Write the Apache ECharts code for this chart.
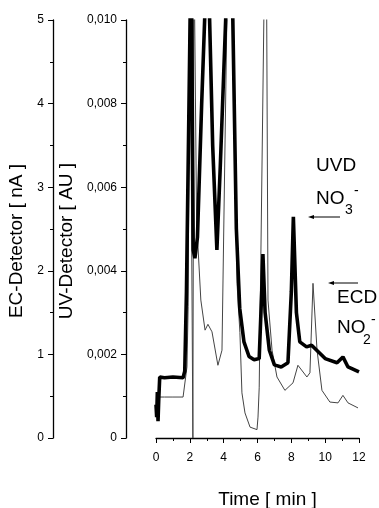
<!DOCTYPE html>
<html>
<head>
<meta charset="utf-8">
<script src="https://cdn.jsdelivr.net/npm/echarts@6/dist/echarts.min.js"></script>
<style>
  html, body { margin: 0; padding: 0; background: #fff; }
  #chart { width: 379px; height: 508px; }
</style>
</head>
<body>
<div id="chart"></div>
<script>
// time [min] / UV detector [AU] (thick trace)
const uvTime = [0.0, 0.04, 0.08, 0.12, 0.16, 0.22, 0.5, 1.0, 1.6, 1.7, 1.8, 1.95, 2.08, 2.2, 2.3, 2.45, 2.7, 3.05, 3.35, 3.6, 3.8, 4.3, 4.5, 4.75, 4.95, 5.2, 5.5, 5.8, 6.1, 6.25, 6.32, 6.45, 6.7, 7.0, 7.4, 7.8, 8.0, 8.12, 8.3, 8.5, 8.9, 9.2, 9.5, 10.0, 10.7, 11.05, 11.35, 12.0];
const uvValue = [0.0008, 0.0005, 0.0011, 0.0004, 0.0009, 0.00146, 0.00144, 0.00146, 0.00144, 0.0016, 0.0035, 0.008, 0.012, 0.0045, 0.0043, 0.0048, 0.008, 0.012, 0.007, 0.0045, 0.0065, 0.012, 0.011, 0.005, 0.0031, 0.0023, 0.00195, 0.00187, 0.0019, 0.0035, 0.0044, 0.003, 0.0021, 0.00175, 0.0017, 0.0018, 0.0035, 0.00529, 0.003, 0.0023, 0.00218, 0.00222, 0.0021, 0.0019, 0.0018, 0.00194, 0.0017, 0.00158];

// time [min] / EC detector [nA] (thin trace)
const ecTime = [0.15, 0.5, 1.0, 1.6, 1.83, 1.9, 2.0, 2.1, 2.18, 2.24, 2.4, 2.65, 2.9, 3.07, 3.31, 3.66, 3.9, 4.26, 4.5, 4.79, 4.96, 5.08, 5.26, 5.56, 5.97, 6.03, 6.1, 6.5, 6.62, 6.86, 7.15, 7.62, 8.1, 8.39, 8.92, 9.1, 9.28, 9.52, 9.81, 10.28, 10.76, 11.05, 11.35, 11.94];
const ecValue = [0.49, 0.49, 0.49, 0.49, 0.85, 1.57, 6, 6, 0, 6, 2.6, 1.65, 1.29, 1.36, 1.27, 0.87, 1.05, 6, 6, 1.85, 1.26, 0.54, 0.30, 0.13, 0.1, 0.25, 0.6, 7, 1.65, 1.05, 0.73, 0.57, 0.66, 0.87, 0.73, 0.78, 1.85, 1.05, 0.57, 0.43, 0.42, 0.51, 0.42, 0.36];

const ecTicks = [0, 1, 2, 3, 4, 5];
const uvTicks = ['0', '0,002', '0,004', '0,006', '0,008', '0,010'];
const timeTicks = [0, 2, 4, 6, 8, 10, 12];

const chart = echarts.init(document.getElementById('chart'), null, {renderer: 'canvas'});
const font = 'Liberation Sans, Arial, sans-serif';

const pair = (xs, ys) => xs.map((x, i) => [x, ys[i]]);

const axisCommon = {
  axisLine: {show: true, onZero: false, lineStyle: {color: '#000', width: 1.3}},
  axisTick: {show: true, length: 5, lineStyle: {color: '#000'}},
  minorTick: {show: true, splitNumber: 2, length: 3, lineStyle: {color: '#000'}},
  splitLine: {show: false}
};

chart.setOption({
  animation: false,
  backgroundColor: '#fff',
  grid: {left: 156, right: 20, top: 20, bottom: 70, containLabel: false, outerBoundsMode: 'none'},
  xAxis: Object.assign({
    type: 'value',
    min: 0, max: 12, interval: 2,
    name: 'Time [ min ]',
    nameLocation: 'middle',
    nameGap: 52,
    nameTextStyle: {fontFamily: font, fontSize: 19, color: '#000', padding: [0, 0, 0, 20]},
    axisLabel: {
      fontFamily: font, fontSize: 12, color: '#000', margin: 14,
      formatter: v => timeTicks.includes(v) ? String(v) : ''
    }
  }, axisCommon),
  yAxis: [
    Object.assign({
      type: 'value', position: 'left', offset: 103,
      min: 0, max: 5, interval: 1,
      name: 'EC-Detector [ nA ]',
      nameLocation: 'middle', nameGap: 26,
      nameTextStyle: {fontFamily: font, fontSize: 19, color: '#000', padding: [0, 24, 0, 0]},
      axisLabel: {fontFamily: font, fontSize: 12, color: '#000', margin: 9,
        formatter: v => String(ecTicks[Math.round(v)])}
    }, axisCommon),
    Object.assign({
      type: 'value', position: 'left', offset: 30,
      min: 0, max: 0.010, interval: 0.002,
      name: 'UV-Detector [ AU ]',
      nameLocation: 'middle', nameGap: 49,
      nameTextStyle: {fontFamily: font, fontSize: 19, color: '#000', padding: [0, 24, 0, 0]},
      axisLabel: {fontFamily: font, fontSize: 12, color: '#000', margin: 9,
        formatter: v => uvTicks[Math.round(v / 0.002)]}
    }, axisCommon)
  ],
  series: [
    {
      type: 'line', yAxisIndex: 0, clip: true,
      showSymbol: false, symbol: 'none',
      data: pair(ecTime, ecValue),
      lineStyle: {color: '#444', width: 1}
    },
    {
      type: 'line', yAxisIndex: 1, clip: true,
      showSymbol: false, symbol: 'none',
      data: pair(uvTime, uvValue),
      lineStyle: {color: '#000', width: 3.6}
    }
  ],
  graphic: [
    {type: 'text', left: 316, top: 156, style: {text: 'UVD', font: '19px ' + font, fill: '#000'}},
    {type: 'text', left: 316, top: 189, style: {text: 'NO', font: '19px ' + font, fill: '#000'}},
    {type: 'text', left: 345, top: 203, style: {text: '3', font: '14px ' + font, fill: '#000'}},
    {type: 'text', left: 354, top: 184, style: {text: '-', font: '14px ' + font, fill: '#000'}},
    {type: 'line', shape: {x1: 340, y1: 217, x2: 311, y2: 217}, style: {stroke: '#000', lineWidth: 1}},
    {type: 'polygon', shape: {points: [[308, 217], [314, 215], [314, 219]]}, style: {fill: '#000'}},
    {type: 'text', left: 337, top: 288, style: {text: 'ECD', font: '19px ' + font, fill: '#000'}},
    {type: 'text', left: 337, top: 318, style: {text: 'NO', font: '19px ' + font, fill: '#000'}},
    {type: 'text', left: 363, top: 333, style: {text: '2', font: '14px ' + font, fill: '#000'}},
    {type: 'text', left: 371, top: 313, style: {text: '-', font: '14px ' + font, fill: '#000'}},
    {type: 'line', shape: {x1: 358, y1: 283, x2: 331, y2: 283}, style: {stroke: '#000', lineWidth: 1}},
    {type: 'polygon', shape: {points: [[328, 283], [334, 281], [334, 285]]}, style: {fill: '#000'}}
  ]
});
</script>
</body>
</html>
